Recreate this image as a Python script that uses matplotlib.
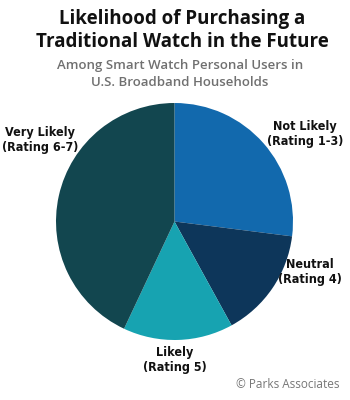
import matplotlib.pyplot as plt

labels = ["Not Likely\n(Rating 1-3)", "Neutral\n(Rating 4)",
          "Likely\n(Rating 5)", "Very Likely\n(Rating 6-7)"]
shares = [27, 15, 15, 43]
colors = ["#1269AD", "#0D365A", "#17A3B1", "#12464F"]

W, H = 350, 400
fig = plt.figure(figsize=(W / 100, H / 100), dpi=100)

def fx(px):
    return px / W

def fy(py):
    return 1 - py / H

# pie placed by pixel centre / radius
cx, cy, r = 174.5, 221.5, 118.5
ax = fig.add_axes([fx(cx - r), fy(cy + r), 2 * r / W, 2 * r / H])
ax.pie(shares, colors=colors, startangle=90, counterclock=False,
       radius=1, wedgeprops=dict(linewidth=0))
ax.set_xlim(-1, 1)
ax.set_ylim(-1, 1)
ax.set_aspect("auto")
ax.axis("off")

title_font = ["Open Sans", "DejaVu Sans"]

fig.text(fx(182), fy(19), "Likelihood of Purchasing a", ha="center", va="center",
         fontsize=13.5, fontweight="bold", family=title_font, color="#111111")
fig.text(fx(182), fy(42), "Traditional Watch in the Future", ha="center", va="center",
         fontsize=13.5, fontweight="bold", family=title_font, color="#111111")
fig.text(fx(180), fy(65), "Among Smart Watch Personal Users in", ha="center",
         va="center", fontsize=9.5, fontweight="semibold", family=title_font,
         color="#707070")
fig.text(fx(180), fy(83), "U.S. Broadband Households", ha="center",
         va="center", fontsize=9.5, fontweight="semibold", family=title_font,
         color="#707070")

label_pos = [(305, 134), (310, 272), (175, 360), (40, 140)]
for lab, (px, py) in zip(labels, label_pos):
    fig.text(fx(px), fy(py), lab, ha="center", va="center", fontsize=9,
             fontweight="bold", family="DejaVu Sans", fontstretch="condensed",
             color="#111111", linespacing=1.2)

fig.text(fx(340), fy(385), "© Parks Associates", ha="right", va="center",
         fontsize=8.5, family=title_font, color="#777777")

fig.savefig("out.png", dpi=100)
